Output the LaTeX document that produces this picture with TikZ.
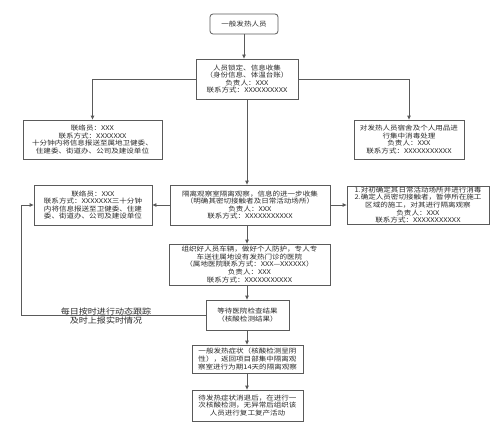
\documentclass[tikz,border=0pt]{standalone}
\usepackage{fontspec}
\newfontfamily\cjk[FakeStretch=1.16]{Noto Sans CJK SC}
\usetikzlibrary{arrows.meta}
\definecolor{edge}{HTML}{5A5A5A}
\definecolor{txt}{HTML}{2A2A2A}
\tikzset{
  box/.style={draw=edge, line width=0.8pt, fill=white, align=center, inner sep=0pt,
    text=txt, font=\cjk\fontsize{6.5}{7.6}\selectfont},
  rbox/.style={box, rounded corners=3pt},
  conn/.style={draw=edge, line width=0.8pt},
  arr/.style={conn, -{Triangle[length=4pt,width=3.4pt]}},
  lbl/.style={align=center, inner sep=0pt, text=txt, font=\cjk\fontsize{7.8}{9}\selectfont}
}
\begin{document}
\begin{tikzpicture}[x=1pt,y=-1pt]
\useasboundingbox[fill=white] (0,0) rectangle (500,436);
\node[rbox, minimum width=68pt, minimum height=20pt] (top) at (244,24) {一般发热人员};
\node[box, minimum width=102pt, minimum height=40pt] (b2) at (247,79)
  {人员锁定、信息收集\\（身份信息、体温台账）\\负责人：XXX\\联系方式：XXXXXXXXXX};
\node[box, minimum width=139pt, minimum height=39pt] (L1) at (92.5,139.5)
  {联络员：XXX\\联系方式：XXXXXXX\\十分钟内将信息报送至属地卫健委、\\住建委、街道办、公司及建设单位};
\node[box, minimum width=110pt, minimum height=39pt] (R1) at (409,139.5)
  {对发热人员宿舍及个人用品进\\行集中消毒处理\\负责人：XXX\\联系方式：XXXXXXXXXXX};
\node[box, minimum width=160pt, minimum height=40pt] (b3) at (250,205)
  {隔离观察室隔离观察，信息的进一步收集\\（明确其密切接触者及日常活动场所）\\负责人：XXX\\联系方式：XXXXXXXXXXX};
\node[box, minimum width=118pt, minimum height=40pt] (L2) at (93,205)
  {联络员：XXX\\联系方式：XXXXXXX三十分钟\\内将信息报送至卫健委、住建\\委、街道办、公司及建设单位};
\node[box, minimum width=142pt, minimum height=38pt] (R2) at (418,205)
  {1.对初确定其日常活动场所并进行消毒\\2.确定人员密切接触者，暂停所在施工\\区域的施工，对其进行隔离观察\\负责人：XXX\\联系方式：XXXXXXXXXXX};
\node[box, minimum width=161pt, minimum height=41pt] (b4) at (249.5,264.5)
  {组织好人员车辆，做好个人防护，专人专\\车送往属地设有发热门诊的医院\\（属地医院联系方式：XXX—XXXXXX）\\负责人：XXX\\联系方式：XXXXXXXXXXX};
\node[box, minimum width=83pt, minimum height=30pt] (b5) at (247.5,315)
  {等待医院检查结果\\（核酸检测结果）};
\node[box, minimum width=111pt, minimum height=28pt] (b6) at (247.5,359)
  {一般发热症状（核酸检测呈阴\\性），返回项目部集中隔离观\\察室进行为期14天的隔离观察};
\node[box, minimum width=111pt, minimum height=31pt] (b7) at (247.5,405.5)
  {待发热症状消退后，在进行一\\次核酸检测，无异常后组织该\\人员进行复工复产活动};
\coordinate (fb) at (21,205);
\draw[arr] (top.south) -- (top.south |- b2.north);
\draw[arr] (b2.west) -| (L1.north);
\draw[arr] (b2.east) -| (R1.north);
\draw[arr] (b2.south) -- (b2.south |- b3.north);
\draw[arr] (b3.west) -- (L2.east);
\draw[arr] (b3.east) -- (R2.west);
\draw[arr] (b2.south |- b3.south) -- (b2.south |- b4.north);
\draw[arr] (b2.south |- b4.south) -- (b2.south |- b5.north);
\draw[arr] (b2.south |- b5.south) -- (b2.south |- b6.north);
\draw[arr] (b2.south |- b6.south) -- (b2.south |- b7.north);
\draw[arr] (b5.west) -| (fb) -- (L2.west);
\node[lbl] (fbl) at (106,316) {每日按时进行动态跟踪\\及时上报实时情况};
\end{tikzpicture}
\end{document}
